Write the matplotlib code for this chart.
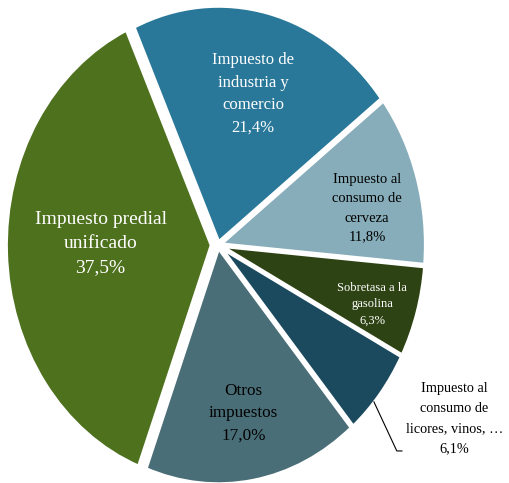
import numpy as np
import matplotlib
matplotlib.use("Agg")
import matplotlib.pyplot as plt

# ---- data ----
categories = ["Impuesto de\nindustria y\ncomercio",
              "Impuesto al\nconsumo de\ncerveza",
              "Sobretasa a la\ngasolina",
              "Impuesto al\nconsumo de\nlicores, vinos, \u2026",
              "Otros\nimpuestos",
              "Impuesto predial\nunificado"]
values = [21.4, 11.8, 6.3, 6.1, 17.0, 37.5]
pct_labels = ["21,4%", "11,8%", "6,3%", "6,1%", "17,0%", "37,5%"]

# ---- styles ----
colors = ["#2A7899", "#86ADB9", "#2E4313", "#1B4A5E", "#4A6E77", "#4E711E"]
explode = [0.01, 0.01, 0.01, 0.01, 0.01, 0.03]
text_colors = ["white", "black", "white", "black", "black", "white"]
font_sizes = [12, 10.5, 9, 10.3, 12.3, 14]
line_sp = [1.53, 1.61, 1.49, 1.71, 1.54, 1.54]
label_r = [0.66, 0.74, 0.79, 1.362, 0.72, 0.57]
label_dang = [-0.8, -4.2, -2.2, 6.1, 0, -2.4]

W, H = 509, 483
fig = plt.figure(figsize=(W / 100, H / 100), dpi=100)
cx, cy, rx, ry = 218, 245, 206, 237
ax = fig.add_axes([(cx - rx) / W, (H - cy - ry) / H, 2 * rx / W, 2 * ry / H])

wedges, _ = ax.pie(values, colors=colors, explode=explode, startangle=114.4,
                   counterclock=False,
                   wedgeprops=dict(edgecolor="white", linewidth=3))
ax.set_aspect("auto")
ax.set_xlim(-1, 1)
ax.set_ylim(-1, 1)
for w in wedges:
    w.set_clip_on(False)

for i, w in enumerate(wedges):
    ang = np.deg2rad((w.theta1 + w.theta2) / 2 + label_dang[i])
    x = label_r[i] * np.cos(ang)
    y = label_r[i] * np.sin(ang)
    ax.text(x, y, categories[i] + "\n" + pct_labels[i], ha="center", va="center",
            color=text_colors[i], fontsize=font_sizes[i], linespacing=line_sp[i],
            family=["Liberation Serif", "DejaVu Serif"], clip_on=False)

# leader line for the outside label (licores)
ax.plot([0.757, 0.868, 0.893], [-0.662, -0.869, -0.869], color="black",
        lw=0.8, clip_on=False)

fig.savefig("out.png", dpi=100)
